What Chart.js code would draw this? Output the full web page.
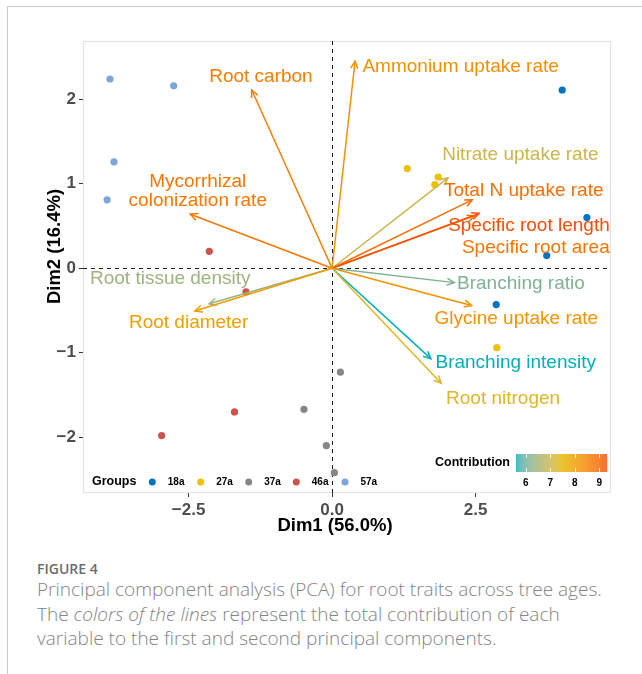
<!DOCTYPE html>
<html><head><meta charset="utf-8">
<script src="https://cdn.jsdelivr.net/npm/chart.js@4"></script>
<style>
html,body{margin:0;padding:0;background:#fff;width:642px;height:674px;overflow:hidden;}
#frame{position:absolute;left:7px;top:6px;width:700px;height:700px;border-top:1px solid #cacaca;border-left:1px solid #cacaca;}
#c{position:absolute;left:0;top:0;}
.cap{position:absolute;left:37px;font-family:'Open Sans',sans-serif;white-space:nowrap;color:#848484;}
.fig{font-size:14px;font-weight:600;color:#6c6c6c;height:20px;line-height:20px;}
.ln{height:24px;line-height:24px;font-size:17px;font-weight:300;}
</style></head><body>
<div id="frame"></div>
<canvas id="c" width="642" height="540"></canvas>
<div class="cap fig" style="top:559px">FIGURE 4</div>
<div class="cap ln" id="l1" style="top:577px">Principal component analysis (PCA) for root traits across tree ages.</div>
<div class="cap ln" id="l2" style="top:601.5px">The <i>colors of the lines</i> represent the total contribution of each</div>
<div class="cap ln" id="l3" style="top:626px">variable to the first and second principal components.</div>
<script>
// ---------- DATA ----------
const ageGroups = ['18a', '27a', '37a', '46a', '57a'];
const groupColors = ['#0073C2', '#EFC000', '#868686', '#CD534C', '#7AA6DC'];
const pts18aX = [4.01, 4.44, 3.74, 2.86];
const pts18aY = [2.11, 0.60, 0.15, -0.43];
const pts27aX = [1.31, 1.85, 1.79, 2.87];
const pts27aY = [1.18, 1.08, 0.99, -0.94];
const pts37aX = [-0.49, -0.10, 0.145, 0.04];
const pts37aY = [-1.67, -2.10, -1.23, -2.42];
const pts46aX = [-2.14, -1.50, -1.70, -2.97];
const pts46aY = [0.20, -0.28, -1.70, -1.98];
const pts57aX = [-3.87, -2.76, -3.80, -3.92];
const pts57aY = [2.24, 2.16, 1.26, 0.81];

const varNames = ['Root carbon', 'Ammonium uptake rate', 'Mycorrhizal\ncolonization rate', 'Nitrate uptake rate',
  'Total N uptake rate', 'Specific root area', 'Specific root length', 'Branching ratio', 'Glycine uptake rate',
  'Branching intensity', 'Root nitrogen', 'Root tissue density', 'Root diameter'];
const varDim1 = [-1.40, 0.40, -2.47, 2.02, 2.44, 2.48, 2.56, 2.13, 2.43, 1.72, 1.90, -2.14, -2.39];
const varDim2 = [2.11, 2.45, 0.64, 1.07, 0.81, 0.62, 0.65, -0.17, -0.44, -1.07, -1.36, -0.42, -0.505];
const varContrib = [8.6, 8.25, 8.7, 7.0, 8.85, 8.75, 9.3, 6.1, 8.2, 5.6, 7.3, 6.4, 8.0];
const labelDim1 = [-1.24, 2.24, -2.34, 3.28, 3.34, 3.55, 3.43, 3.29, 3.21, 3.20, 2.98, -2.82, -2.50];
const labelDim2 = [2.27, 2.39, 0.91, 1.34, 0.92, 0.24, 0.50, -0.18, -0.60, -1.12, -1.54, -0.13, -0.65];

const xTicks = [-2.5, 0, 2.5];
const yTicks = [-2, -1, 0, 1, 2];
const contribTicks = [6, 7, 8, 9];
const gradientCols = ['#00AFBB', '#E7B800', '#FC4E07'];
const xTitle = 'Dim1 (56.0%)';
const yTitle = 'Dim2 (16.4%)';

// ---------- colour ramp (CIELAB, like ggplot2) ----------
function hex2rgb(h){h=h.replace('#','');return [0,2,4].map(i=>parseInt(h.substr(i,2),16));}
function toLin(c){c/=255;return c<=0.04045?c/12.92:Math.pow((c+0.055)/1.055,2.4);}
function fromLin(c){const v=c<=0.0031308?12.92*c:1.055*Math.pow(c,1/2.4)-0.055;return Math.max(0,Math.min(255,Math.round(v*255)));}
function rgb2lab(rgb){const [r,g,b]=rgb.map(toLin);
  let X=(0.4124*r+0.3576*g+0.1805*b)/0.95047,Y=(0.2126*r+0.7152*g+0.0722*b),Z=(0.0193*r+0.1192*g+0.9505*b)/1.08883;
  const f=t=>t>0.008856?Math.cbrt(t):7.787*t+16/116;const fx=f(X),fy=f(Y),fz=f(Z);
  return [116*fy-16,500*(fx-fy),200*(fy-fz)];}
function lab2rgb(lab){const fy=(lab[0]+16)/116,fx=fy+lab[1]/500,fz=fy-lab[2]/200;
  const inv=t=>{const t3=t*t*t;return t3>0.008856?t3:(t-16/116)/7.787;};
  const X=inv(fx)*0.95047,Y=inv(fy),Z=inv(fz)*1.08883;
  const r=3.2406*X-1.5372*Y-0.4986*Z,g=-0.9689*X+1.8758*Y+0.0415*Z,b=0.0557*X-0.2040*Y+1.0570*Z;
  return [fromLin(r),fromLin(g),fromLin(b)];}
const labStops = gradientCols.map(c=>rgb2lab(hex2rgb(c)));
const cMin = Math.min(...varContrib), cMax = Math.max(...varContrib);
function rampColor(v){
  let t=(v-cMin)/(cMax-cMin);t=Math.max(0,Math.min(1,t));
  const seg=t<0.5?0:1;const lt=t<0.5?t*2:(t-0.5)*2;
  const a=labStops[seg],b=labStops[seg+1];
  const rgb=lab2rgb([0,1,2].map(i=>a[i]+(b[i]-a[i])*lt));
  return 'rgb('+rgb.join(',')+')';
}

const F = "'Liberation Sans', Arial, sans-serif";
const minus = v => (v < 0 ? '\u2212' : '');

const groupPts = [[pts18aX,pts18aY],[pts27aX,pts27aY],[pts37aX,pts37aY],[pts46aX,pts46aY],[pts57aX,pts57aY]];

const pcaPlugin = {
  id: 'pca',
  beforeDatasetsDraw(chart) {
    const {ctx, chartArea: a, scales: {x, y}} = chart;
    ctx.save();
    ctx.strokeStyle = '#e4e4e4'; ctx.lineWidth = 1.2;
    ctx.strokeRect(a.left + 0.5, a.top + 0.5, a.right - a.left - 1, a.bottom - a.top - 1);
    ctx.strokeStyle = '#1a1a1a'; ctx.lineWidth = 1; ctx.setLineDash([4, 4]);
    const x0 = Math.round(x.getPixelForValue(0)) + 0.5, y0 = Math.round(y.getPixelForValue(0)) + 0.5;
    ctx.beginPath(); ctx.moveTo(x0, a.top); ctx.lineTo(x0, a.bottom); ctx.stroke();
    ctx.beginPath(); ctx.moveTo(a.left, y0); ctx.lineTo(a.right, y0); ctx.stroke();
    ctx.restore();
  },
  afterDatasetsDraw(chart) {
    const {ctx, chartArea: a, scales: {x, y}} = chart;
    ctx.save();
    const ox = x.getPixelForValue(0), oy = y.getPixelForValue(0);
    // arrows
    varNames.forEach((n, i) => {
      const col = rampColor(varContrib[i]);
      const tx = x.getPixelForValue(varDim1[i]), ty = y.getPixelForValue(varDim2[i]);
      ctx.strokeStyle = col; ctx.lineWidth = 1.5; ctx.lineCap = 'round';
      ctx.beginPath(); ctx.moveTo(ox, oy); ctx.lineTo(tx, ty); ctx.stroke();
      const ang = Math.atan2(ty - oy, tx - ox), L = 7.5, w = Math.PI / 7;
      ctx.beginPath();
      ctx.moveTo(tx - L * Math.cos(ang - w), ty - L * Math.sin(ang - w));
      ctx.lineTo(tx, ty);
      ctx.lineTo(tx - L * Math.cos(ang + w), ty - L * Math.sin(ang + w));
      ctx.stroke();
    });
    // labels
    ctx.font = '19px ' + F; ctx.textAlign = 'center'; ctx.textBaseline = 'middle';
    varNames.forEach((n, i) => {
      ctx.fillStyle = rampColor(varContrib[i]);
      const lx = x.getPixelForValue(labelDim1[i]), ly = y.getPixelForValue(labelDim2[i]);
      const lines = n.split('\n');
      lines.forEach((t, k) => ctx.fillText(t, lx, ly + (k - (lines.length - 1) / 2) * 18.5));
    });
    // axis titles
    ctx.fillStyle = '#000'; ctx.font = 'bold 18.5px ' + F;
    ctx.fillText(xTitle, 335, 526);
    ctx.save(); ctx.translate(55, 246.5); ctx.rotate(-Math.PI / 2); ctx.fillText(yTitle, 0, 0); ctx.restore();
    // group legend
    ctx.fillStyle = '#000'; ctx.textAlign = 'left';
    ctx.font = 'bold 12.5px ' + F; ctx.fillText('Groups', 92, 482);
    const dotX = [152.3, 200.7, 248.7, 296.3, 345];
    ctx.font = 'bold 10px ' + F;
    ageGroups.forEach((g, i) => {
      ctx.fillStyle = groupColors[i];
      ctx.beginPath(); ctx.arc(dotX[i], 482, 3.5, 0, Math.PI * 2); ctx.fill();
      ctx.fillStyle = '#000'; ctx.fillText(g, dotX[i] + 15.5, 482.5);
    });
    // contribution legend
    ctx.font = 'bold 12.5px ' + F; ctx.fillText('Contribution', 435, 463);
    const bx0 = 516, bx1 = 606.7, by0 = 454, by1 = 472;
    const v2p = v => bx0 + (v - cMin) / (cMax - cMin) * (bx1 - bx0);
    for (let px = bx0; px < bx1; px += 0.5) {
      const v = cMin + (px - bx0) / (bx1 - bx0) * (cMax - cMin);
      ctx.fillStyle = rampColor(v); ctx.fillRect(px, by0, 0.6, by1 - by0);
    }
    ctx.strokeStyle = 'rgba(255,255,255,0.9)'; ctx.lineWidth = 1;
    ctx.font = 'bold 10px ' + F; ctx.textAlign = 'center';
    contribTicks.forEach(v => {
      const px = Math.round(v2p(v)) + 0.5;
      ctx.beginPath(); ctx.moveTo(px, by0); ctx.lineTo(px, by0 + 3.6); ctx.moveTo(px, by1 - 3.6); ctx.lineTo(px, by1); ctx.stroke();
      ctx.fillStyle = '#000'; ctx.fillText(String(v), v2p(v), 483);
    });
    ctx.restore();
  }
};

new Chart(document.getElementById('c').getContext('2d'), {
  type: 'scatter',
  data: {
    datasets: ageGroups.map((g, i) => ({
      label: g,
      data: groupPts[i][0].map((v, k) => ({x: v, y: groupPts[i][1][k]})),
      backgroundColor: groupColors[i], borderColor: groupColors[i], borderWidth: 0,
      pointRadius: 3.6, pointHoverRadius: 3.6
    }))
  },
  options: {
    responsive: false, animation: false, devicePixelRatio: 1,
    layout: {padding: {top: 41, right: 31, left: 0, bottom: 0}},
    plugins: {legend: {display: false}, tooltip: {enabled: false}},
    scales: {
      x: {
        type: 'linear', min: -4.34, max: 4.86,
        afterBuildTicks: s => { s.ticks = xTicks.map(v => ({value: v})); },
        afterFit: s => { s.height = 47; },
        grid: {drawOnChartArea: false, drawTicks: true, tickLength: 4, color: '#333'},
        border: {display: false},
        ticks: {padding: 3, color: '#4d4d4d', font: {family: F, size: 17, weight: 'bold'}, maxRotation: 0, autoSkip: false,
          callback: v => minus(v) + Math.abs(v).toFixed(1)},
        title: {display: false, text: xTitle}
      },
      y: {
        type: 'linear', min: -2.66, max: 2.69,
        afterBuildTicks: s => { s.ticks = yTicks.map(v => ({value: v})); },
        afterFit: s => { s.width = 83; },
        grid: {drawOnChartArea: false, drawTicks: true, tickLength: 4, color: '#333'},
        border: {display: false},
        ticks: {padding: 3, color: '#4d4d4d', font: {family: F, size: 17, weight: 'bold'}, autoSkip: false,
          callback: v => minus(v) + Math.abs(v)},
        title: {display: false, text: yTitle}
      }
    }
  },
  plugins: [pcaPlugin]
});

// fit caption width
const l1 = document.getElementById('l1');
const w = l1.getBoundingClientRect().width;
const fs = 17 * 565 / w;
document.querySelectorAll('.ln').forEach(e => e.style.fontSize = fs.toFixed(2) + 'px');
</script>
</body></html>
